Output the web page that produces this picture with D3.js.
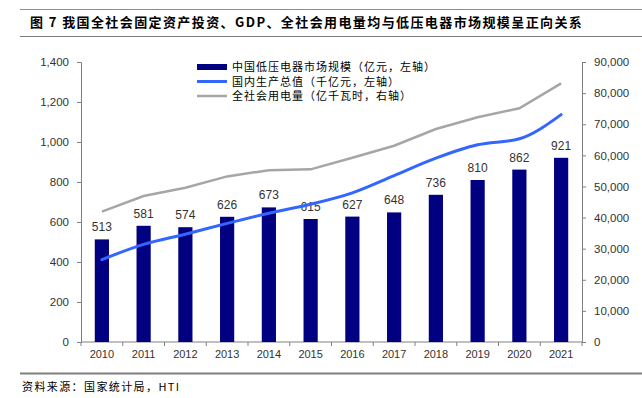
<!DOCTYPE html>
<html>
<head>
<meta charset="utf-8">
<script src="https://cdn.jsdelivr.net/npm/d3@7"></script>
<style>
  body { margin: 0; background: #fff; }
  svg { display: block; }
</style>
</head>
<body>
<div id="chart"></div>
<script>
const years = ['2010', '2011', '2012', '2013', '2014', '2015', '2016', '2017', '2018', '2019', '2020', '2021'];
// 中国低压电器市场规模（亿元）
const marketSize = [513, 581, 574, 626, 673, 615, 627, 648, 736, 810, 862, 921];
// 国内生产总值（千亿元）
const gdp = [412, 488, 539, 593, 644, 689, 746, 832, 919, 986, 1016, 1137];
// 全社会用电量（亿千瓦时）
const power = [41923, 46928, 49591, 53223, 55233, 55500, 59198, 63077, 68449, 72255, 75110, 83128];
const leftTicks = [0, 200, 400, 600, 800, 1000, 1200, 1400];
const rightTicks = [0, 10000, 20000, 30000, 40000, 50000, 60000, 70000, 80000, 90000];
const legendLabels = ['中国低压电器市场规模（亿元，左轴）', '国内生产总值（千亿元，左轴）', '全社会用电量（亿千瓦时，右轴）'];

const width = 642, height = 398;
const m = { left: 81, right: 60, top: 62, bottom: 56 };
const latin = 'Arial, "Liberation Sans", sans-serif';
const cjk = '"Noto Sans CJK SC", sans-serif';

const svg = d3.select('#chart').append('svg')
    .attr('width', width)
    .attr('height', height);

// title block
svg.append('line').attr('x1', 20).attr('x2', 642).attr('y1', 9.5).attr('y2', 9.5)
    .attr('stroke', '#8c8c8c').attr('stroke-width', 1);
svg.append('line').attr('x1', 20).attr('x2', 642).attr('y1', 36.5).attr('y2', 36.5)
    .attr('stroke', '#7f7f7f').attr('stroke-width', 1);
svg.append('text')
    .attr('x', 30).attr('y', 27)
    .style('font-family', cjk).style('font-size', '13px').style('font-weight', 'bold')
    .style('letter-spacing', '1.4px')
    .attr('fill', '#000')
    .text('图 7 我国全社会固定资产投资、GDP、全社会用电量均与低压电器市场规模呈正向关系');

// source block
svg.append('line').attr('x1', 20).attr('x2', 642).attr('y1', 373.5).attr('y2', 373.5)
    .attr('stroke', '#7f7f7f').attr('stroke-width', 2);
svg.append('text')
    .attr('x', 22).attr('y', 391)
    .style('font-family', cjk).style('font-size', '11px')
    .style('letter-spacing', '1.4px')
    .attr('fill', '#000')
    .text('资料来源：国家统计局，HTI');

const x = d3.scaleBand()
    .domain(years)
    .range([m.left, width - m.right])
    .paddingInner(0.66)
    .paddingOuter(0.33);
const xs = d3.scaleBand().domain(years).range([m.left, width - m.right]);

const yL = d3.scaleLinear().domain([0, 1400]).range([height - m.bottom, m.top]);
const yR = d3.scaleLinear().domain([0, 90000]).range([height - m.bottom, m.top]);

const fmt = d3.format(',');

// left axis
const gL = svg.append('g')
    .attr('transform', `translate(${m.left},0)`)
    .call(d3.axisLeft(yL).tickValues(leftTicks).tickFormat(fmt).tickSize(4).tickPadding(8));
// right axis
const gR = svg.append('g')
    .attr('transform', `translate(${width - m.right},0)`)
    .call(d3.axisRight(yR).tickValues(rightTicks).tickFormat(fmt).tickSize(4).tickPadding(8));

[gL, gR].forEach(g => {
    g.select('.domain').attr('stroke', '#808080');
    g.selectAll('.tick line').attr('stroke', '#808080');
    g.selectAll('.tick text').attr('fill', '#333').style('font-family', latin).style('font-size', '11.5px');
});

// x axis
const gX = svg.append('g')
    .attr('transform', `translate(0,${height - m.bottom})`);
gX.append('line')
    .attr('x1', m.left).attr('x2', width - m.right)
    .attr('stroke', '#808080');
gX.selectAll('line.tk')
    .data(years.concat(['end']))
    .join('line')
    .attr('class', 'tk')
    .attr('x1', (d, i) => i < years.length ? xs(d) : xs.range()[1])
    .attr('x2', (d, i) => i < years.length ? xs(d) : xs.range()[1])
    .attr('y1', 0).attr('y2', 4)
    .attr('stroke', '#808080');
gX.selectAll('text')
    .data(years)
    .join('text')
    .attr('x', d => xs(d) + xs.bandwidth() / 2)
    .attr('y', 16)
    .attr('text-anchor', 'middle')
    .attr('fill', '#333')
    .style('font-family', latin).style('font-size', '11px')
    .text(d => d);

// bars
svg.append('g').selectAll('rect')
    .data(marketSize)
    .join('rect')
    .attr('x', (d, i) => x(years[i]))
    .attr('y', d => yL(d))
    .attr('width', x.bandwidth())
    .attr('height', d => yL(0) - yL(d))
    .attr('fill', '#000080');

// bar labels
svg.append('g').selectAll('text')
    .data(marketSize)
    .join('text')
    .attr('x', (d, i) => x(years[i]) + x.bandwidth() / 2)
    .attr('y', d => yL(d) - 8)
    .attr('text-anchor', 'middle')
    .attr('fill', '#333')
    .style('font-family', latin).style('font-size', '12px')
    .text(d => d);

const cx = i => xs(years[i]) + xs.bandwidth() / 2;

// electricity line (right axis)
svg.append('path')
    .datum(power)
    .attr('fill', 'none')
    .attr('stroke', '#a6a6a6')
    .attr('stroke-width', 2.5)
    .attr('d', d3.line().x((d, i) => cx(i)).y(d => yR(d)));

// GDP line (left axis)
svg.append('path')
    .datum(gdp)
    .attr('fill', 'none')
    .attr('stroke', '#3366ff')
    .attr('stroke-width', 3)
    .attr('stroke-linecap', 'round')
    .attr('d', d3.line().curve(d3.curveMonotoneX).x((d, i) => cx(i)).y(d => yL(d)));

// legend
const lg = svg.append('g');
const legendRows = [
    { label: legendLabels[0], color: '#000080', type: 'bar' },
    { label: legendLabels[1], color: '#3366ff', type: 'line' },
    { label: legendLabels[2], color: '#a6a6a6', type: 'line' }
];
legendRows.forEach((r, i) => {
    const yy = 67 + i * 14.5;
    if (r.type === 'bar') {
        lg.append('rect').attr('x', 197).attr('y', yy - 3).attr('width', 30).attr('height', 6).attr('fill', r.color);
    } else {
        lg.append('line').attr('x1', 197).attr('x2', 227).attr('y1', yy).attr('y2', yy)
            .attr('stroke', r.color).attr('stroke-width', r.color === '#3366ff' ? 3 : 2.5);
    }
    lg.append('text')
        .attr('x', 232).attr('y', yy + 4)
        .attr('fill', '#000')
        .style('font-family', cjk).style('font-size', '11px')
        .style('letter-spacing', '1px')
        .text(r.label);
});
</script>
</body>
</html>
